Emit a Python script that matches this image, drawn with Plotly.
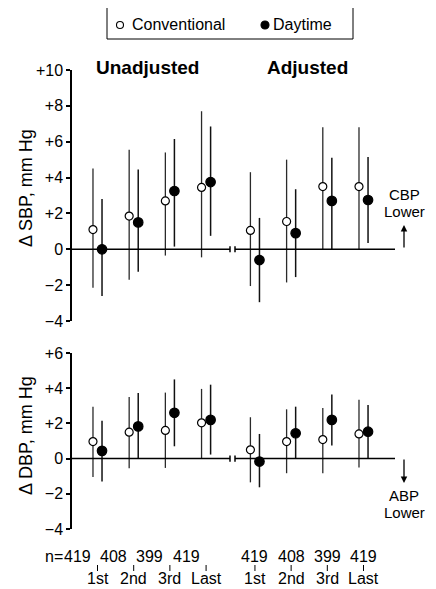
import plotly.graph_objects as go

# ---------------- data ----------------
periods = ["1st", "2nd", "3rd", "Last"]
n_counts = [419, 408, 399, 419]
panels = ["Unadjusted", "Adjusted"]
series = ["Conventional", "Daytime"]

# Δ SBP (mm Hg): mean, upper CI, lower CI
sbp_unadj_conv_mean = [1.1, 1.85, 2.7, 3.45]
sbp_unadj_conv_upper = [4.5, 5.55, 5.4, 7.7]
sbp_unadj_conv_lower = [-2.15, -1.7, -0.35, -0.45]
sbp_unadj_day_mean = [0.0, 1.5, 3.25, 3.75]
sbp_unadj_day_upper = [2.8, 4.45, 6.15, 6.85]
sbp_unadj_day_lower = [-2.6, -1.25, 0.15, 0.75]

sbp_adj_conv_mean = [1.05, 1.55, 3.5, 3.5]
sbp_adj_conv_upper = [4.3, 5.0, 6.8, 6.8]
sbp_adj_conv_lower = [-2.05, -1.85, 0.0, 0.0]
sbp_adj_day_mean = [-0.6, 0.9, 2.7, 2.75]
sbp_adj_day_upper = [1.75, 3.35, 5.1, 5.15]
sbp_adj_day_lower = [-2.95, -1.55, 0.0, 0.35]

# Δ DBP (mm Hg)
dbp_unadj_conv_mean = [0.97, 1.5, 1.6, 2.03]
dbp_unadj_conv_upper = [2.95, 3.5, 3.75, 3.96]
dbp_unadj_conv_lower = [-1.05, -0.55, -0.53, 0.0]
dbp_unadj_day_mean = [0.44, 1.83, 2.6, 2.2]
dbp_unadj_day_upper = [2.15, 3.73, 4.5, 4.2]
dbp_unadj_day_lower = [-1.3, 0.0, 0.7, 0.23]

dbp_adj_conv_mean = [0.5, 0.97, 1.08, 1.4]
dbp_adj_conv_upper = [2.35, 2.8, 2.88, 3.35]
dbp_adj_conv_lower = [-1.35, -0.83, -0.83, -0.5]
dbp_adj_day_mean = [-0.17, 1.44, 2.2, 1.53]
dbp_adj_day_upper = [1.4, 2.95, 3.64, 3.05]
dbp_adj_day_lower = [-1.63, 0.0, 0.74, 0.0]

sbp_ticks = [-4, -2, 0, 2, 4, 6, 8, 10]
sbp_ticktext = ["\u22124", "\u22122", "0", "+2", "+4", "+6", "+8", "+10"]
dbp_ticks = [-4, -2, 0, 2, 4, 6]
dbp_ticktext = ["\u22124", "\u22122", "0", "+2", "+4", "+6"]

# ---------------- layout helpers ----------------
FONT = "Liberation Sans, Arial, Helvetica, sans-serif"
OFF = 8  # page body margin of the browser
W, H = 436 - OFF, 589 - OFF
PX_L, PX_R, PX_T, PX_B = 72, 395, 70, 529   # plot area in reference pixels
L, T = PX_L - OFF, PX_T - OFF
R, B = W - (PX_R - OFF), H - (PX_B - OFF)
PW, PH = PX_R - PX_L, PX_B - PX_T


def px_x(p):
    return (p - PX_L) / PW


def px_y(p):
    return (PX_B - p) / PH


panel_start = {"Unadjusted": 1.0, "Adjusted": 5.35}
n_row_shift = {"Unadjusted": -20, "Adjusted": 0}
offsets = {"Conventional": -0.125, "Daytime": 0.125}
XR = [0.2954, 9.22]
UNIT = PW / (XR[1] - XR[0])

data = {
    ("SBP", "Unadjusted", "Conventional"): (sbp_unadj_conv_mean, sbp_unadj_conv_upper, sbp_unadj_conv_lower),
    ("SBP", "Unadjusted", "Daytime"): (sbp_unadj_day_mean, sbp_unadj_day_upper, sbp_unadj_day_lower),
    ("SBP", "Adjusted", "Conventional"): (sbp_adj_conv_mean, sbp_adj_conv_upper, sbp_adj_conv_lower),
    ("SBP", "Adjusted", "Daytime"): (sbp_adj_day_mean, sbp_adj_day_upper, sbp_adj_day_lower),
    ("DBP", "Unadjusted", "Conventional"): (dbp_unadj_conv_mean, dbp_unadj_conv_upper, dbp_unadj_conv_lower),
    ("DBP", "Unadjusted", "Daytime"): (dbp_unadj_day_mean, dbp_unadj_day_upper, dbp_unadj_day_lower),
    ("DBP", "Adjusted", "Conventional"): (dbp_adj_conv_mean, dbp_adj_conv_upper, dbp_adj_conv_lower),
    ("DBP", "Adjusted", "Daytime"): (dbp_adj_day_mean, dbp_adj_day_upper, dbp_adj_day_lower),
}

fig = go.Figure()
for (meas, panel, s), (m, up, lo) in data.items():
    xs = [panel_start[panel] + i + offsets[s] for i in range(len(periods))]
    conv = s == "Conventional"
    fig.add_trace(go.Scatter(
        x=xs, y=m, mode="markers", name=s,
        xaxis="x" if meas == "SBP" else "x2",
        yaxis="y" if meas == "SBP" else "y2",
        error_y=dict(type="data", symmetric=False,
                     array=[u - v for u, v in zip(up, m)],
                     arrayminus=[v - l for v, l in zip(m, lo)],
                     width=0, thickness=1.3 if conv else 1.5,
                     color="#2a2a2a" if conv else "#111111"),
        marker=dict(symbol="circle", size=8 if conv else 9.5,
                    color="white" if conv else "black",
                    line=dict(color="black", width=1.2)),
        showlegend=False, cliponaxis=False,
    ))

x_blank = dict(domain=[0, 1], range=XR, showline=False, showticklabels=False, ticks="",
               showgrid=False, zeroline=False)
y_common = dict(showgrid=False, zeroline=False, showline=True, linecolor="black", linewidth=1.5,
                ticks="outside", ticklen=4, tickwidth=1.5, tickcolor="black",
                tickfont=dict(family=FONT, size=16, color="black"))
fig.update_layout(
    width=W, height=H,
    margin=dict(l=L, r=R, t=T, b=B, autoexpand=False),
    paper_bgcolor="white", plot_bgcolor="white",
    font=dict(family=FONT, size=16, color="black"),
    xaxis=dict(anchor="y", **x_blank),
    xaxis2=dict(anchor="y2", **x_blank),
    yaxis=dict(domain=[px_y(321), 1], range=[-4, 10], tickvals=sbp_ticks, ticktext=sbp_ticktext,
               anchor="x", **y_common),
    yaxis2=dict(domain=[0, px_y(353)], range=[-4, 6], tickvals=dbp_ticks, ticktext=dbp_ticktext,
                anchor="x2", **y_common),
)

# zero lines with axis break
brk0 = XR[0] + (230 - PX_L) / UNIT
brk1 = XR[0] + (235 - PX_L) / UNIT
for xr, yr, tick in (("x", "y", 0.17), ("x2", "y2", 0.18)):
    line = dict(color="black", width=1.5)
    fig.add_shape(type="line", xref=xr, yref=yr, x0=XR[0], x1=brk0, y0=0, y1=0, line=line)
    fig.add_shape(type="line", xref=xr, yref=yr, x0=brk1, x1=XR[1], y0=0, y1=0, line=line)
    for bx in (brk0, brk1):
        fig.add_shape(type="line", xref=xr, yref=yr, x0=bx, x1=bx, y0=-tick, y1=tick, line=line)


def note(text, x, y, size=16, xanchor="center", yanchor="middle", **kw):
    d = dict(text=text, xref="paper", yref="paper", x=x, y=y, xanchor=xanchor,
             yanchor=yanchor, showarrow=False, font=dict(size=size, family=FONT, color="black"))
    d.update(kw)
    return d


annotations = []
# panel titles
for panel, cx in zip(panels, (147, 307)):
    annotations.append(note("<b>%s</b>" % panel, px_x(cx), px_y(67), size=19))
# y titles
annotations.append(note("\u0394 SBP, mm Hg", px_x(26), px_y(188), size=18, textangle=-90))
annotations.append(note("\u0394 DBP, mm Hg", px_x(26), px_y(436), size=18, textangle=-90))
# CBP / ABP lower
for txt, py in (("CBP", 194), ("Lower", 211), ("ABP", 495), ("Lower", 512)):
    annotations.append(note(txt, px_x(404), px_y(py), size=15))
annotations.append(dict(text="", xref="paper", yref="paper", x=px_x(404), y=px_y(225),
                        ax=0, ay=24, showarrow=True, arrowhead=2, arrowsize=1, arrowwidth=1.3,
                        arrowcolor="black"))
annotations.append(dict(text="", xref="paper", yref="paper", x=px_x(404), y=px_y(483),
                        ax=0, ay=-25, showarrow=True, arrowhead=2, arrowsize=1, arrowwidth=1.3,
                        arrowcolor="black"))
# bottom category labels
for panel in panels:
    for i, (n, p) in enumerate(zip(n_counts, periods)):
        gx = panel_start[panel] + i
        annotations.append(dict(text=str(n), xref="x2", yref="paper", x=gx, y=px_y(556),
                                xanchor="center", yanchor="middle", xshift=n_row_shift[panel],
                                showarrow=False, font=dict(size=16, family=FONT)))
        annotations.append(dict(text=p, xref="x2", yref="paper", x=gx, y=px_y(578),
                                xanchor="center", yanchor="middle",
                                showarrow=False, font=dict(size=16, family=FONT)))
        fig.add_shape(type="line", xref="x2", yref="paper", x0=gx, x1=gx,
                      y0=px_y(565), y1=px_y(571), line=dict(color="black", width=1))
annotations.append(dict(text="n=", xref="x2", yref="paper", x=panel_start["Unadjusted"], y=px_y(556),
                        xanchor="right", yanchor="middle", xshift=n_row_shift["Unadjusted"] - 13,
                        showarrow=False, font=dict(size=16, family=FONT)))

# legend box (manual)
fig.add_shape(type="rect", xref="paper", yref="paper", x0=px_x(107), x1=px_x(353),
              y0=px_y(39), y1=px_y(7), line=dict(color="black", width=1))
for cx, fill, r in ((120, "white", 3.5), (265, "black", 4)):
    fig.add_shape(type="circle", xref="paper", yref="paper", xsizemode="pixel", ysizemode="pixel",
                  xanchor=px_x(cx), yanchor=px_y(25), x0=-r, x1=r, y0=-r, y1=r,
                  fillcolor=fill, line=dict(color="black", width=1.1))
for txt, lx in zip(series, (130, 271)):
    annotations.append(note(txt, px_x(lx), px_y(25), xanchor="left"))

fig.update_layout(annotations=annotations)
fig.write_html("out.html")
